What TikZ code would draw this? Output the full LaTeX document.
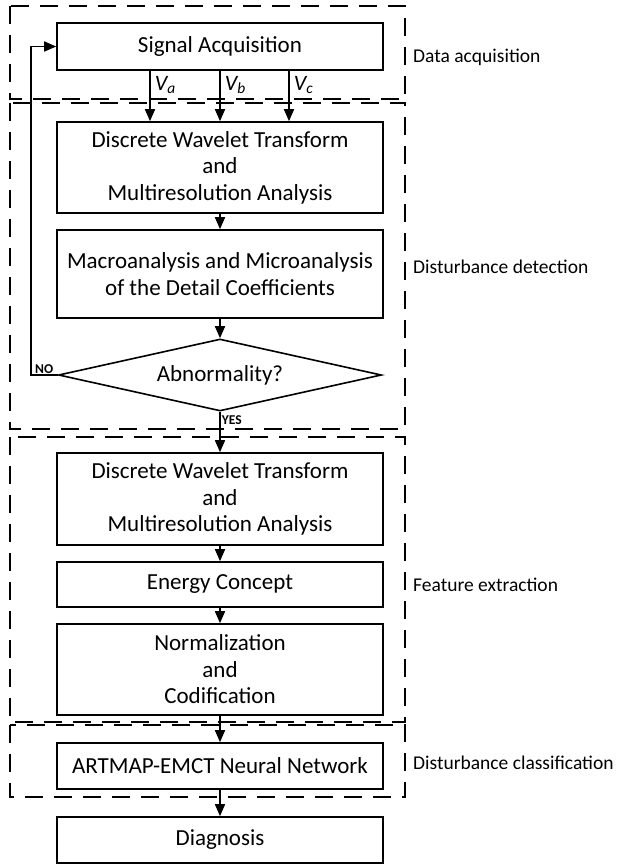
\documentclass[tikz,border=0pt]{standalone}
\usepackage{fontspec}
\setmainfont{Carlito}
\usepackage{tikz}
\usetikzlibrary{arrows.meta,positioning,shapes.geometric}

\begin{document}
\begin{tikzpicture}[x=1pt, y=-1pt, >={Triangle[length=12pt,width=10pt]},
  box/.style={draw, line width=1.6pt, minimum width=326pt, inner sep=0pt, align=center, font=\fontsize{23}{26.5}\selectfont},
  decision/.style={draw, diamond, line width=1.6pt, aspect=4.5, minimum width=323pt, minimum height=72pt, inner sep=0pt, font=\fontsize{23}{26.5}\selectfont},
  zone/.style={line width=1.4pt, dash pattern=on 18pt off 11pt},
  zonelabel/.style={anchor=west, inner sep=0pt, font=\fontsize{19.5}{23}\selectfont},
  flow/.style={->, line width=1.6pt},
  phase/.style={right, pos=.28, inner sep=4pt, font=\itshape\fontsize{22}{26}\selectfont},
  answer/.style={font=\bfseries\fontsize{13.5}{15}\selectfont, inner sep=1pt}]
  \useasboundingbox (0,0) rectangle (616,865);

  \node[box, minimum height=47pt]                                        (sig)    at (220,46.5) {Signal Acquisition};
  \node[box, minimum height=91pt, below of=sig, node distance=121pt]     (dwt1)   {Discrete Wavelet Transform\\and\\Multiresolution Analysis};
  \node[box, minimum height=88pt, below of=dwt1, node distance=106.5pt]  (macro)  {Macroanalysis and Microanalysis\\of the Detail Coefficients};
  \node[decision, below of=macro, node distance=101pt]                   (abn)    {Abnormality?};
  \node[box, minimum height=92pt, below of=abn, node distance=124pt]     (dwt2)   {Discrete Wavelet Transform\\and\\Multiresolution Analysis};
  \node[box, minimum height=45pt, below of=dwt2, node distance=85.5pt]   (energy) {Energy Concept};
  \node[box, minimum height=91pt, below of=energy, node distance=85pt]   (norm)   {Normalization\\and\\Codification};
  \node[box, minimum height=46pt, below of=norm, node distance=96.5pt]   (artmap) {ARTMAP-EMCT Neural Network};
  \node[box, minimum height=46pt, below of=artmap, node distance=74pt]   (diag)   {Diagnosis};

  \draw[zone] (10,6)   rectangle (405,99);
  \draw[zone] (10,103) rectangle (405,429);
  \draw[zone] (10,437) rectangle (405,722);
  \draw[zone] (10,725) rectangle (405,797);

  \node[zonelabel] (lacq)   at (413,57)  {Data acquisition};
  \node[zonelabel] (ldet)   at (413,267) {Disturbance detection};
  \node[zonelabel] (lfeat)  at (413,585) {Feature extraction};
  \node[zonelabel] (lclass) at (413,763) {Disturbance classification};

  \path[flow] ([xshift=-70pt]sig.south) edge node[phase] {V\textsubscript{a}} ([xshift=-70pt]dwt1.north)
              (sig)                     edge node[phase] {V\textsubscript{b}} (dwt1)
              ([xshift=69pt]sig.south)  edge node[phase] {V\textsubscript{c}} ([xshift=69pt]dwt1.north)
              (dwt1)   edge (macro)
              (macro)  edge (abn)
              (abn)    edge node[answer, right, pos=.2] {YES} (dwt2)
              (dwt2)   edge (energy)
              (energy) edge (norm)
              (norm)   edge (artmap)
              (artmap) edge (diag);
  \draw[flow] (abn.west) -- node[answer, above] {NO} ++(-27,0) |- (sig.west);
\end{tikzpicture}
\end{document}
